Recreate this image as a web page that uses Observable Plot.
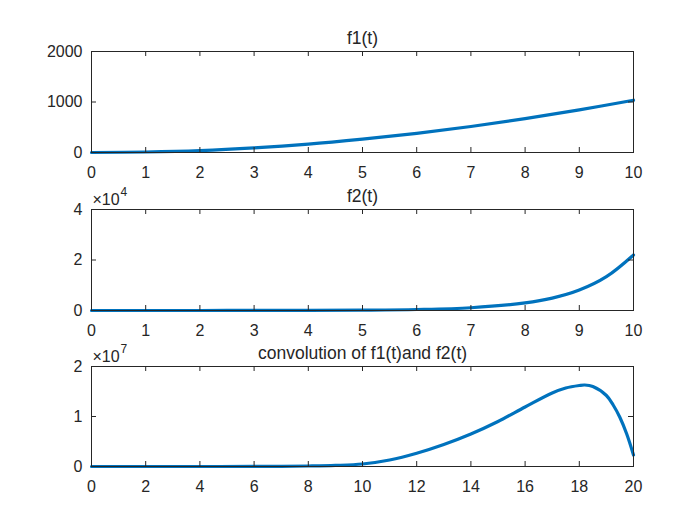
<!DOCTYPE html>
<html>
<head>
<meta charset="utf-8">
<script src="https://cdn.jsdelivr.net/npm/d3@7"></script>
<script src="https://cdn.jsdelivr.net/npm/@observablehq/plot@0.6"></script>
<style>
  html, body { margin: 0; padding: 0; background: #fff; }
  #chart { width: 700px; height: 525px; }
  #chart svg { display: block; }
</style>
</head>
<body>
<div id="chart"></div>
<script>
// ---- data ----
const titles = ["f1(t)", "f2(t)", "convolution of f1(t)and f2(t)"];

const t1 = [0, 1, 2, 3, 4, 5, 6, 7, 8, 9, 10];
const f1 = [0, 10, 37, 90, 165, 265, 380, 515, 670, 845, 1035];

const t2 = [0, 1, 2, 3, 4, 5, 6, 7, 8, 8.5, 9, 9.5, 10];
const f2 = [1, 3, 7, 20, 55, 150, 400, 1100, 3000, 4900, 8100, 13400, 22000];

const t3 = [0, 2, 4, 6, 7, 8, 9, 10, 11, 12, 13, 14, 15, 16, 17, 17.5, 18, 18.2, 18.5, 19, 19.25, 19.5, 19.75, 20];
const conv = [0, 0, 0, 0.001e7, 0.004e7, 0.01e7, 0.022e7, 0.05e7, 0.13e7, 0.265e7, 0.44e7, 0.65e7, 0.9e7,
              1.19e7, 1.47e7, 1.57e7, 1.62e7, 1.63e7, 1.6e7, 1.42e7, 1.23e7, 0.98e7, 0.65e7, 0.23e7];

const xTicks1 = [0, 1, 2, 3, 4, 5, 6, 7, 8, 9, 10];
const xTicks3 = [0, 2, 4, 6, 8, 10, 12, 14, 16, 18, 20];
const yTicks1 = [0, 1000, 2000];
const yTicks2 = [0, 2e4, 4e4];
const yTicks3 = [0, 1e7, 2e7];
const exponents = [null, "4", "7"];
const yScaleDiv = [1, 1e4, 1e7];

// ---- drawing ----
const ink = "#262626";
const lineColor = "#0072BD";
const W = 700, ML = 91, MR = 67;
const innerW = W - ML - MR;
const tickLen = 5;

const panels = [
  {t: t1, v: f1, xd: [0, 10], xt: xTicks1, yd: [0, 2000], yt: yTicks1, h: 180, mt: 51, mb: 28},
  {t: t2, v: f2, xd: [0, 10], xt: xTicks1, yd: [0, 4e4], yt: yTicks2, h: 158, mt: 29, mb: 28},
  {t: t3, v: conv, xd: [0, 20], xt: xTicks3, yd: [0, 2e7], yt: yTicks3, h: 187, mt: 28, mb: 59}
];

const container = document.getElementById("chart");

panels.forEach((p, i) => {
  const innerH = p.h - p.mt - p.mb;
  const data = p.t.map((t, j) => ({t, v: p.v[j]}));
  const div = yScaleDiv[i];
  const marks = [
    Plot.line(data, {x: "t", y: "v", stroke: lineColor, strokeWidth: 3.2, curve: "catmull-rom"}),
    Plot.frame({stroke: ink, strokeWidth: 1}),
    // inward ticks, bottom & top
    Plot.tickX(p.xt, {x: d => d, stroke: ink, insetTop: innerH - tickLen}),
    Plot.tickX(p.xt, {x: d => d, stroke: ink, insetBottom: innerH - tickLen}),
    // inward ticks, left & right
    Plot.tickY(p.yt, {y: d => d, stroke: ink, insetRight: innerW - tickLen}),
    Plot.tickY(p.yt, {y: d => d, stroke: ink, insetLeft: innerW - tickLen}),
    Plot.axisX(p.xt, {tickSize: 0, tickPadding: 14, fill: ink, fontSize: 16, label: null}),
    Plot.axisY(p.yt, {tickSize: 0, tickPadding: 9, fill: ink, fontSize: 16, label: null,
                      tickFormat: d => String(d / div)}),
    Plot.text([titles[i]], {frameAnchor: "top", dy: -13, text: d => d, fill: ink,
                            fontSize: 17.5, lineAnchor: "middle"})
  ];
  if (exponents[i]) {
    marks.push(Plot.text(["×10"], {frameAnchor: "top-left", dx: 1, dy: -10, text: d => d,
                                   fill: ink, fontSize: 16, textAnchor: "start", lineAnchor: "middle"}));
    marks.push(Plot.text([exponents[i]], {frameAnchor: "top-left", dx: 29, dy: -17, text: d => d,
                                          fill: ink, fontSize: 12, textAnchor: "start", lineAnchor: "middle"}));
  }
  const chart = Plot.plot({
    width: W,
    height: p.h,
    marginLeft: ML,
    marginRight: MR,
    marginTop: p.mt,
    marginBottom: p.mb,
    style: {fontFamily: "'Liberation Sans', Arial, sans-serif", fontSize: "16px", color: ink, background: "#fff"},
    x: {domain: p.xd, label: null},
    y: {domain: p.yd, label: null},
    marks
  });
  container.appendChild(chart);
});
</script>
</body>
</html>
